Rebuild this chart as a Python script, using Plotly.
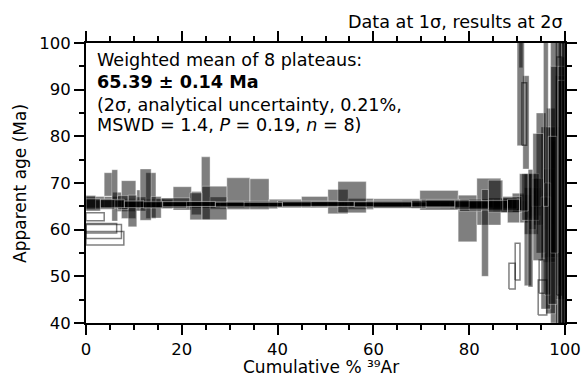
import plotly.graph_objects as go

# ---- Data: 8 step-heating spectra (width %39Ar, age Ma, 1-sigma error, in plateau) ----
w1 = [3.8, 3.2, 5, 6, 8, 10, 12, 14, 12, 9, 6, 4, 2.5, 1.5, 1.2, 1.0, 0.8]
a1 = [62.75, 65.9, 65.3, 65.6, 65.4, 65.5, 65.3, 65.45, 65.5, 65.25, 65.6, 65.0, 66.5, 64.0, 70, 62, 72]
e1 = [0.85, 1.2, 0.9, 0.8, 0.65, 0.55, 0.5, 0.5, 0.55, 0.65, 0.8, 1.2, 2.0, 4.0, 9, 14, 25]
p1 = [0, 1, 1, 1, 1, 1, 1, 1, 1, 1, 1, 1, 1, 1, 1, 1, 1]

w2 = [6.4, 4, 6, 10, 12, 15, 14, 11, 9.9, 1.3, 1.0, 2.0, 2.4, 2.0, 1.5, 1.5]
a2 = [60.3, 65.2, 65.6, 65.4, 65.5, 65.3, 65.5, 65.4, 65.6, 50.05, 53.15, 64.5, 66, 68, 60, 75]
e2 = [1.0, 1.3, 0.9, 0.75, 0.6, 0.55, 0.6, 0.7, 0.9, 2.75, 3.95, 3, 3, 14, 20, 30]
p2 = [0, 1, 1, 1, 1, 1, 1, 1, 1, 0, 0, 1, 1, 1, 1, 1]

w3 = [7.9, 4.1, 6, 9, 13, 14, 12, 10, 8, 5, 2, 1.0, 1.5, 2, 2.5, 1.0, 1.0]
a3 = [58.15, 65.5, 65.3, 65.5, 65.4, 65.5, 65.35, 65.6, 65.3, 65.7, 65.2, 84.8, 65, 66, 63, 68, 70]
e3 = [1.45, 1.1, 0.8, 0.65, 0.5, 0.5, 0.55, 0.65, 0.8, 1.1, 1.4, 6.7, 2.5, 5, 10, 14, 30]
p3 = [0, 1, 1, 1, 1, 1, 1, 1, 1, 1, 1, 0, 1, 1, 1, 1, 0]

w4 = [7.4, 3.6, 7, 10, 12, 15, 13, 10, 7, 4, 2.5, 2.9, 1.8, 1.8, 2.0]
a4 = [59.6, 65.4, 65.5, 65.3, 65.5, 65.4, 65.5, 65.3, 65.6, 65.2, 65.8, 64, 45.45, 70, 65]
e4 = [1.5, 1.1, 0.8, 0.65, 0.55, 0.5, 0.55, 0.7, 0.9, 1.3, 2, 5, 3.75, 16, 28]
p4 = [0, 1, 1, 1, 1, 1, 1, 1, 1, 1, 1, 1, 0, 1, 1]

w5 = [3.8, 1.7, 1.9, 3.0, 2.1, 2.1, 3.6, 3.8, 2.1, 1.8, 3.5, 4.8, 4.0, 6.8, 5.5, 4.2, 5.3,
      9.7, 8.0, 3.9, 5.0, 3.8, 0.8, 1.3, 1.5, 2.0, 2.0, 2.0]
a5 = [65.9, 69.7, 66.5, 66.45, 65.5, 67.3, 65.6, 66.7, 65.7, 68.9, 65.7, 67.7, 67.6, 65.6, 65.9, 66.0, 65.5,
      65.7, 66.3, 62.4, 66.0, 65.2, 100, 83, 66, 70, 62, 75]
e5 = [1.2, 2.5, 1.5, 4.05, 1.5, 4.9, 1.0, 2.5, 2.5, 6.7, 1.3, 3.4, 3.3, 0.9, 1.2, 2.6, 1.2,
      0.9, 2.1, 5.0, 5.0, 1.5, 5.3, 10, 6, 15, 20, 30]
p5 = [1] * 28

w6 = [5.4, 1.2, 2.2, 1.8, 0.7, 2.3, 2.1, 6.0, 2.5, 5.2, 10.6, 12.6, 5.9, 11.5, 8.0, 4.6, 1.4,
      3.0, 3.0, 1.5, 1.5, 2.0, 2.0, 1.5, 1.5]
a6 = [65.6, 67.35, 65.8, 64.0, 66.5, 67.5, 64.8, 65.8, 65.0, 65.7, 65.3, 65.5, 66.95, 65.4, 65.6, 65.2, 59.3,
      67.3, 65.6, 90, 60, 68, 55, 80, 65]
e6 = [1.0, 5.5, 1.5, 3.4, 2.0, 5.5, 2.3, 1.0, 2.9, 3.6, 0.8, 0.7, 3.35, 0.8, 0.9, 1.3, 9.3,
      3.3, 1.2, 12, 12, 3, 12, 25, 30]
p6 = [1] * 25

w7 = [2, 4, 6, 9, 12, 14, 13, 11, 9, 7, 4, 3.6, 1.1, 1.3, 1.5, 1.5]
a7 = [65.8, 65.4, 65.5, 65.3, 65.5, 65.4, 65.5, 65.3, 65.6, 65.2, 65.6, 67, 49.95, 58, 75, 62]
e7 = [1.5, 1.0, 0.8, 0.65, 0.5, 0.5, 0.55, 0.65, 0.8, 1.0, 1.5, 5, 3.55, 12, 20, 30]
p7 = [1, 1, 1, 1, 1, 1, 1, 1, 1, 1, 1, 1, 0, 1, 1, 1]

w8 = [3, 5, 8, 11, 14, 15, 12, 9, 7, 4, 2.5, 1.8, 1.0, 2.2, 1.0, 1.8, 1.0, 0.7]
a8 = [65.3, 65.6, 65.4, 65.5, 65.35, 65.5, 65.4, 65.6, 65.3, 65.0, 64, 68, 60.3, 67, 85, 62, 71.5, 68]
e8 = [1.3, 0.9, 0.7, 0.55, 0.5, 0.5, 0.55, 0.7, 0.9, 1.3, 2.5, 4, 12.6, 13.6, 20, 18, 25.5, 35]
p8 = [1, 1, 1, 1, 1, 1, 1, 1, 1, 1, 1, 1, 1, 1, 1, 1, 0, 1]

spectra = [(w1, a1, e1, p1), (w2, a2, e2, p2), (w3, a3, e3, p3), (w4, a4, e4, p4),
           (w5, a5, e5, p5), (w6, a6, e6, p6), (w7, a7, e7, p7), (w8, a8, e8, p8)]

FONT = "DejaVu Sans"
fig = go.Figure()


def boxes(widths, ages, errs, flags, want):
    xs, ys = [], []
    cum = 0.0
    for w, a, e, f in zip(widths, ages, errs, flags):
        x0, x1 = cum, cum + w
        cum = x1
        if f != want:
            continue
        y0, y1 = a - e, a + e
        xs += [x0, x1, x1, x0, x0, None]
        ys += [y0, y0, y1, y1, y0, None]
    return xs, ys


for w, a, e, p in spectra:
    xs, ys = boxes(w, a, e, p, 1)
    fig.add_trace(go.Scatter(x=xs, y=ys, mode="lines", fill="toself",
                             fillcolor="rgba(0,0,0,0.5)",
                             line=dict(color="rgba(255,255,255,0.35)", width=1),
                             hoverinfo="skip", showlegend=False))
for w, a, e, p in spectra:
    xs, ys = boxes(w, a, e, p, 0)
    if xs:
        fig.add_trace(go.Scatter(x=xs, y=ys, mode="lines",
                                 line=dict(color="rgba(0,0,0,0.5)", width=1.5),
                                 hoverinfo="skip", showlegend=False))

axis_common = dict(showline=True, linewidth=2, linecolor="black", mirror="allticks",
                   ticks="outside", ticklen=10, tickwidth=2, tickcolor="black",
                   showgrid=False, zeroline=False, automargin=False,
                   ticklabeloverflow="allow",
                   tickfont=dict(family=FONT, size=16.5, color="black"))

fig.update_xaxes(range=[0, 100], tick0=0, dtick=20,
                 minor=dict(dtick=5, ticklen=5, tickwidth=2, tickcolor="black", ticks="outside"),
                 **axis_common)
fig.update_yaxes(range=[40, 100], tick0=40, dtick=10,
                 minor=dict(dtick=5, ticklen=5, tickwidth=2, tickcolor="black", ticks="outside"),
                 **axis_common)

title_font = dict(family=FONT, size=17, color="black")
fig.add_annotation(text="Cumulative % ³⁹Ar", xref="paper", yref="paper",
                   x=0.49, y=-0.158, xanchor="center", yanchor="middle",
                   showarrow=False, font=title_font)
fig.add_annotation(text="Apparent age (Ma)", xref="paper", yref="paper",
                   x=-0.138, y=0.5, xanchor="center", yanchor="middle", textangle=-90,
                   showarrow=False, font=title_font)

ann_font = dict(family=FONT, size=17.6, color="black")
lines = [
    ("Weighted mean of 8 plateaus:", 0.941),
    ("<b>65.39 ± 0.14 Ma</b>", 0.860),
    ("(2σ, analytical uncertainty, 0.21%,", 0.779),
    ("MSWD = 1.4, <i>P</i> = 0.19, <i>n</i> = 8)", 0.708),
]
for txt, yy in lines:
    fig.add_annotation(text=txt, xref="paper", yref="paper", x=0.018, y=yy,
                       xanchor="left", yanchor="middle", showarrow=False, font=ann_font)
fig.add_annotation(text="Data at 1σ, results at 2σ", xref="paper", yref="paper",
                   x=1.0, y=1.075, xanchor="right", yanchor="middle", showarrow=False,
                   font=ann_font)

fig.update_layout(width=581, height=377, margin=dict(l=86, r=16, t=43, b=54),
                  paper_bgcolor="white", plot_bgcolor="white",
                  font=dict(family=FONT, color="black"))
fig.write_html("out.html")
